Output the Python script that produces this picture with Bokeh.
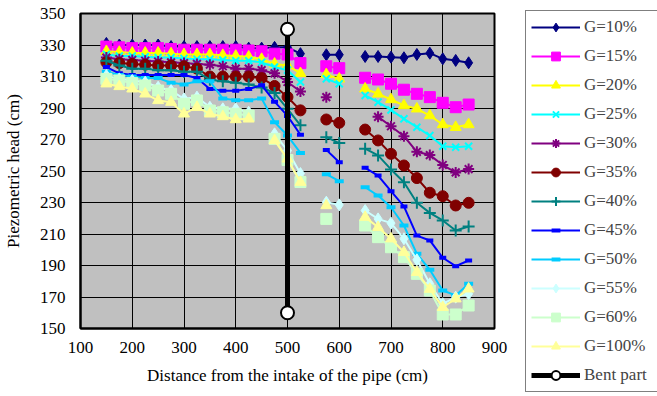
import numpy as np
from bokeh.plotting import figure
from bokeh.models import Legend, LegendItem, FixedTicker, Range1d, ColumnDataSource
from bokeh.embed import file_html
from bokeh.resources import INLINE

nan = float("nan")

# distance from intake (cm)
x_cm = [150, 175, 200, 225, 250, 275, 300, 325, 350, 375, 400, 425, 450, 475,
        500, 525, 550, 575, 600, 625, 650, 675, 700, 725, 750, 775, 800, 825, 850]

g10 = [331, 330, 330, 330, 330, 329, 329, 329, 329, 329, 329, 328, 328, 328.5,
       328.5, 324.5, nan, 323.8, 323.8, nan, 322.7, 322.7, 322.3, 321.9, 324, 324.8, 321.2, 320.2, 318.7]
g15 = [329, 328.5, 328, 328, 328, 327.5, 327, 327, 327, 327, 327, 326.5, 326, 324.5,
       324, 318.5, nan, 316.5, 315.3, nan, 309.2, 308.1, 305.4, 301.6, 299, 296.9, 293.3, 290.5, 292.2]
g20 = [326, 325.5, 325, 325, 325, 324.5, 324, 324, 324, 323.5, 323, 322.5, 321, 318,
       317, 312, nan, 311.3, 308.5, nan, 302.2, 299, 295.4, 291.6, 289.5, 285.2, 279.5, 277.8, 279.5]
g25 = [324, 323, 323, 322.5, 322, 322, 321.5, 321, 321, 320.5, 320, 320, 319, 316,
       314, 306.5, nan, 308.5, 305.4, nan, 298, 293.7, 288.8, 283.1, 277.8, 272.5, 265.7, 265.1, 265.7]
g30 = [322, 321, 320.5, 320, 319.5, 319, 318.5, 318, 317.5, 316.5, 315, 315, 314, 312,
       306.5, 300.5, nan, 296.9, nan, nan, nan, 284.4, 278.4, 272.1, 262.2, 260.1, 253.8, 249.1, 251.2]
g35 = [319, 318.5, 318, 317.5, 317, 317, 316.5, 315, 310, 310, 310, 310, 309, 304,
       297, 288.5, nan, 282.7, 280.6, nan, 276.3, 269.4, 260.9, 253.5, 245.5, 236.2, 234, 228.1, 229.8]
g40 = [320, 317, 315, 315, 314, 314, 313, 313, 308, 307, 306, 305, 303, 299.5,
       289.5, 279, nan, 271.5, 267.7, nan, 264.2, 259.9, 251, 242.9, 229.8, 223.4, 218.6, 212.2, 214.8]
g45 = [316, 312, 311, 311, 311, 311, 311, 309, 302, 301, 301, 302, 304.5, 294,
       285, 273, nan, 263.4, 255.6, nan, 252, 247.1, 237.2, 227.5, 209, 205.9, 194.9, 189.6, 193.2]
g50 = [313, 311, 310, 309, 309, 306, 305, 307, 307, 296, 295, 295, 296, 281,
       272.5, 261.5, nan, 248, 243.5, nan, 239.7, 234.4, 227, 215.4, 197.4, 187.3, 174.1, 171, 178.4]
g55 = [310.6, 308.5, 307.5, 306.4, 303.2, 301.1, 295.8, 296.9, 290.5, 289.5, 289.5, 287.3, nan, 273.6,
       263, 248.4, nan, 230.2, 228.5, nan, 224.9, 219.6, 216.9, 207, 193.6, 178.4, 165.7, 169.9, 172]
g60 = [308.5, 307.5, 305.8, 304.3, 301.1, 299, 292.7, 294.8, 288.4, 287.3, 286.3, 285.2, nan, 270.4,
       257, 243, nan, 219.6, nan, nan, 215.4, 208, 201.6, 195.3, 184.7, 174.1, 158.9, 158.9, 164.6]
g100 = [305.4, 303.7, 302.2, 299, 294.8, 293.7, 286.3, 290.5, 286.3, 284.6, 282.7, 283.1, nan, 269.4,
        257.7, 242.9, nan, 228.1, nan, nan, 220.7, 214.3, 207, 198.4, 185.7, 175, 163.5, 168.9, 175.2]

series_labels = ["G=10%", "G=15%", "G=20%", "G=25%", "G=30%", "G=35%",
                 "G=40%", "G=45%", "G=50%", "G=55%", "G=60%", "G=100%"]
series_values = [g10, g15, g20, g25, g30, g35, g40, g45, g50, g55, g60, g100]

bent_x = [500, 500]
bent_y = [160, 340]
bent_label = "Bent part"

x_ticks = [100, 200, 300, 400, 500, 600, 700, 800, 900]
y_ticks = [150, 170, 190, 210, 230, 250, 270, 290, 310, 330, 350]

# styles: (color, marker, size, marker line width)
styles = [
    ("#000080", "diamond", 12, 1),
    ("#FF00FF", "square", 11, 1),
    ("#FFFF00", "triangle", 11, 1),
    ("#00FFFF", "x", 10, 2),
    ("#800080", "asterisk", 11, 2),
    ("#800000", "circle", 11, 1),
    ("#008080", "cross", 12, 2),
    ("#0000FF", "dash", 7, 4),
    ("#00CCFF", "dash", 9, 4),
    ("#CCFFFF", "diamond", 12, 1),
    ("#CCFFCC", "square", 11, 1),
    ("#FFFF99", "triangle", 11, 1),
]

FONT = "Liberation Serif"

p = figure(frame_width=414, frame_height=315, output_backend="svg", toolbar_location=None,
           x_range=Range1d(100, 900), y_range=Range1d(150, 350),
           min_border_left=79, min_border_right=164, min_border_top=13, min_border_bottom=68)
p.background_fill_color = "#C0C0C0"
p.border_fill_color = "white"
p.outline_line_color = "black"
p.outline_line_width = 2

p.xaxis.ticker = FixedTicker(ticks=x_ticks)
p.yaxis.ticker = FixedTicker(ticks=y_ticks)
p.xgrid.ticker = FixedTicker(ticks=x_ticks)
p.ygrid.ticker = FixedTicker(ticks=y_ticks)
for g in (p.xgrid, p.ygrid):
    g.grid_line_color = "black"
    g.grid_line_width = 1
    g.grid_line_alpha = 1

for ax in (p.xaxis, p.yaxis):
    ax.minor_tick_line_color = None
    ax.major_tick_in = 0
    ax.major_tick_out = 0
    ax.axis_line_color = "black"
    ax.axis_line_width = 2
    ax.major_label_text_font = FONT
    ax.major_label_text_font_size = "17px"
    ax.major_label_text_color = "black"
    ax.axis_label_text_font = FONT
    ax.axis_label_text_font_size = "17px"
    ax.axis_label_text_font_style = "normal"
    ax.axis_label_text_color = "black"

p.xaxis.axis_label = "Distance from the intake of the pipe (cm)"
p.yaxis.axis_label = "Piezometric head (cm)"
p.xaxis.major_label_standoff = 13
p.yaxis.major_label_standoff = 15
p.xaxis.axis_label_standoff = 10
p.yaxis.axis_label_standoff = 14

items = []
xs = np.array(x_cm, dtype=float)
for label, vals, (color, marker, size, mlw) in zip(series_labels, series_values, styles):
    src = ColumnDataSource(dict(x=xs, y=np.array(vals, dtype=float)))
    lr = p.line("x", "y", source=src, line_color=color, line_width=2)
    sr = p.scatter("x", "y", source=src, marker=marker, size=size,
                   fill_color=color, line_color=color, line_width=mlw)
    items.append(LegendItem(label=label, renderers=[lr, sr]))

br = p.line(bent_x, bent_y, line_color="black", line_width=5)
bs = p.scatter(bent_x, bent_y, marker="circle", size=13, fill_color="white",
               line_color="black", line_width=2)
items.append(LegendItem(label=bent_label, renderers=[br, bs]))

legend = Legend(items=items, location=(31, -64), orientation="vertical", margin=0,
                padding=5, spacing=7, glyph_height=22, glyph_width=49,
                label_standoff=4, label_width=68, label_height=22,
                label_text_font=FONT, label_text_font_size="17px",
                border_line_color="black", border_line_width=1,
                background_fill_color="white", background_fill_alpha=1)
p.add_layout(legend, "right")

open("out.html", "w").write(file_html(p, INLINE))
